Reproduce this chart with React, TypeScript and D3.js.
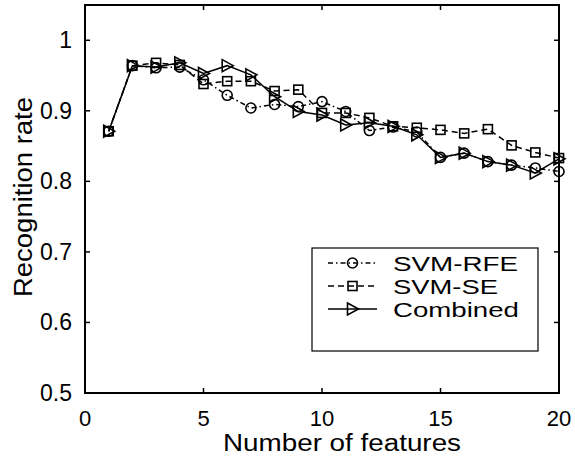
import React from 'react'
import * as d3 from 'd3'

const features = [1, 2, 3, 4, 5, 6, 7, 8, 9, 10, 11, 12, 13, 14, 15, 16, 17, 18, 19, 20]
const svmRfe = [0.871, 0.964, 0.961, 0.962, 0.944, 0.922, 0.904, 0.909, 0.906, 0.913, 0.899, 0.872, 0.877, 0.870, 0.834, 0.840, 0.828, 0.823, 0.819, 0.814]
const svmSe = [0.871, 0.964, 0.968, 0.965, 0.938, 0.942, 0.942, 0.928, 0.930, 0.897, 0.897, 0.890, 0.878, 0.876, 0.873, 0.868, 0.874, 0.851, 0.841, 0.833]
const combined = [0.871, 0.964, 0.962, 0.968, 0.953, 0.964, 0.951, 0.920, 0.899, 0.894, 0.880, 0.883, 0.878, 0.866, 0.834, 0.840, 0.828, 0.823, 0.812, 0.832]

const xTicks = [0, 5, 10, 15, 20]
const yTicks = [0.5, 0.6, 0.7, 0.8, 0.9, 1]
const seriesNames = ['SVM-RFE', 'SVM-SE', 'Combined']

const FONT = '"Liberation Sans", Arial, sans-serif'

const margin = { left: 85, right: 16, top: 5, bottom: 63 }
const W = 575
const H = 456

type Marker = 'circle' | 'square' | 'triangle'

function MarkerShape({ kind, x, y }: { kind: Marker; x: number; y: number }) {
  const s = 5
  if (kind === 'circle') return <circle cx={x} cy={y} r={s} fill="none" stroke="#000" strokeWidth={1.6} />
  if (kind === 'square') return <rect x={x - 4.5} y={y - 4.5} width={9} height={9} fill="none" stroke="#000" strokeWidth={1.6} />
  return <path d={`M${x - 5},${y - 6}L${x + 6},${y}L${x - 5},${y + 6}Z`} fill="none" stroke="#000" strokeWidth={1.6} />
}

export default function App() {
  const x = d3.scaleLinear().domain([0, 20]).range([margin.left, W - margin.right])
  const y = d3.scaleLinear().domain([0.5, 1.05]).range([H - margin.bottom, margin.top])

  const series = [
    { name: seriesNames[0], values: svmRfe, dash: '5,3,1.5,3', marker: 'circle' as Marker, len: 125 },
    { name: seriesNames[1], values: svmSe, dash: '6,4', marker: 'square' as Marker, len: 105 },
    { name: seriesNames[2], values: combined, dash: undefined, marker: 'triangle' as Marker, len: 126 },
  ]

  const line = d3.line<number>()
    .x((_, i) => x(features[i]))
    .y(d => y(d))

  const x0 = x(0), x1 = x(20), yb = y(0.5), yt = y(1.05)
  const tick = 5

  const legX = 312, legY = 248, legW = 226, legH = 103
  const rowY = [263, 286, 309]

  return (
    <svg width={W} height={H} style={{ position: 'absolute', left: 0, top: 0, background: '#fff' }}>
      <rect x={0} y={0} width={W} height={H} fill="#fff" />
      {series.map(s => (
        <path key={s.name} d={line(s.values) || ''} fill="none" stroke="#000" strokeWidth={1.5} strokeDasharray={s.dash} />
      ))}
      {series.map(s => s.values.map((v, i) => (
        <MarkerShape key={s.name + i} kind={s.marker} x={x(features[i])} y={y(v)} />
      )))}

      <rect x={x0} y={yt} width={x1 - x0} height={yb - yt} fill="none" stroke="#000" strokeWidth={2} />
      {xTicks.map(t => (
        <g key={'x' + t}>
          <line x1={x(t)} x2={x(t)} y1={yb} y2={yb - tick} stroke="#000" strokeWidth={1.5} />
          <line x1={x(t)} x2={x(t)} y1={yt} y2={yt + tick} stroke="#000" strokeWidth={1.5} />
          <text x={x(t)} y={426} textAnchor="middle" fontFamily={FONT} fontSize={22}>{t}</text>
        </g>
      ))}
      {yTicks.map(t => (
        <g key={'y' + t}>
          <line x1={x0} x2={x0 + tick} y1={y(t)} y2={y(t)} stroke="#000" strokeWidth={1.5} />
          <line x1={x1} x2={x1 - tick} y1={y(t)} y2={y(t)} stroke="#000" strokeWidth={1.5} />
          <text x={72} y={y(t) + 8} textAnchor="end" fontFamily={FONT} fontSize={23}>{t}</text>
        </g>
      ))}

      <text x={(x0 + x1) / 2 + 20} y={451} textAnchor="middle" fontFamily={FONT} fontSize={23}
        textLength={238} lengthAdjust="spacingAndGlyphs">Number of features</text>
      <text transform={`translate(32,${197}) rotate(-90)`} textAnchor="middle" fontFamily={FONT} fontSize={25}
        textLength={200} lengthAdjust="spacingAndGlyphs">Recognition rate</text>

      <rect x={legX} y={legY} width={legW} height={legH} fill="#fff" stroke="#000" strokeWidth={1.2} />
      {series.map((s, i) => (
        <g key={'leg' + s.name}>
          <line x1={328} x2={377} y1={rowY[i]} y2={rowY[i]} stroke="#000" strokeWidth={1.5} strokeDasharray={s.dash} />
          <MarkerShape kind={s.marker} x={352.5} y={rowY[i]} />
          <text x={393} y={rowY[i] + 7.5} fontFamily={FONT} fontSize={20.5}
            textLength={s.len} lengthAdjust="spacingAndGlyphs">{s.name}</text>
        </g>
      ))}
    </svg>
  )
}
